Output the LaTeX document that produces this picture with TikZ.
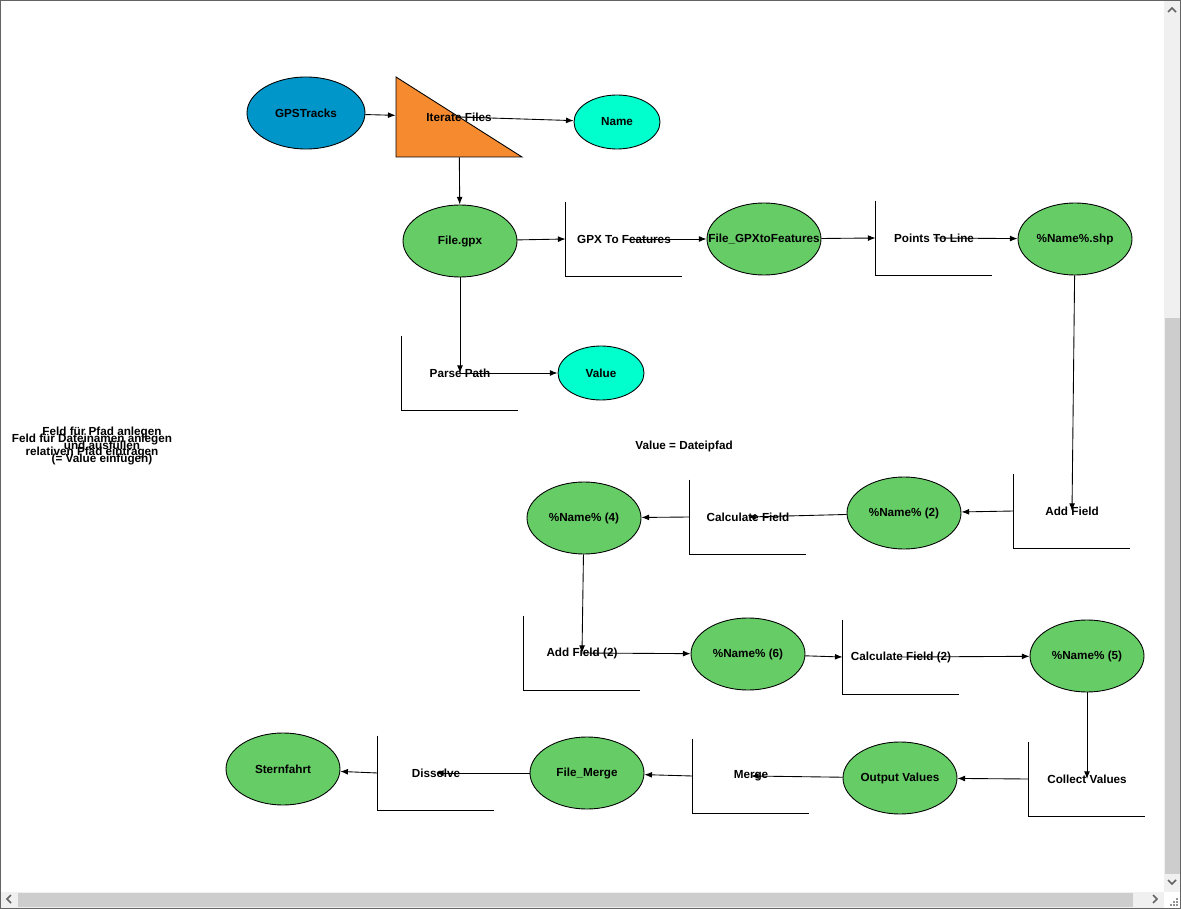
\documentclass[tikz,border=0pt]{standalone}
\usepackage{fontspec}
\setmainfont{Liberation Sans}
\usetikzlibrary{shapes.geometric,arrows.meta}
\definecolor{inputblue}{RGB}{0,150,201}
\definecolor{iterorange}{RGB}{246,138,47}
\definecolor{valueaqua}{RGB}{0,255,204}
\definecolor{datagreen}{RGB}{102,204,102}
\definecolor{barback}{RGB}{240,240,240}
\definecolor{barthumb}{RGB}{205,205,205}
\definecolor{barframe}{RGB}{100,100,100}
\newcommand{\Chevron}{\draw[barframe, line width=1.4pt]}

\begin{document}
\begin{tikzpicture}[>={Latex[length=6.5pt,width=5pt]}, x=0.03cm, y=-0.03cm,
    font=\fontsize{10}{11.5}\selectfont\bfseries,
    every path/.style={line width=0.75pt},
    data/.style={ellipse, draw, fill=datagreen, inner sep=0pt, minimum width=3.42cm, minimum height=2.16cm},
    source/.style={data, fill=inputblue, minimum width=3.54cm},
    value/.style={data, fill=valueaqua, minimum width=2.58cm, minimum height=1.62cm},
    toolbox/.style={rectangle, inner sep=0pt, minimum width=3.48cm, minimum height=2.22cm},
    iterbox/.style={rectangle, inner sep=0pt, minimum width=3.78cm, minimum height=2.4cm},
    note/.style={align=center, inner sep=0pt}]

    \useasboundingbox (0,0) rectangle (1181,909);

    % iterator
    \filldraw[fill=iterorange] (396,77) -- (396,157) -- (522,157) -- cycle;
    \node[iterbox] (iterate) at (459,117) {Iterate Files};

    % data
    \node[source] (tracks) at (306,113) {GPSTracks};
    \node[value] (name) at (617,122) {Name};
    \node[data] (gpx) at (460,241) {File.gpx};
    \node[data] (gpxfeat) at (764,239) {\makebox[0pt]{File\_GPXtoFeatures}};
    \node[data] (shp) at (1075,239) {\%Name\%.shp};
    \node[value] (value) at (601,373) {Value};
    \node[data] (name2) at (904,513) {\%Name\% (2)};
    \node[data] (name4) at (584,518) {\%Name\% (4)};
    \node[data] (name6) at (748,654) {\%Name\% (6)};
    \node[data] (name5) at (1087,656) {\%Name\% (5)};
    \node[data] (output) at (900,778) {Output Values};
    \node[data] (filemerge) at (587,773) {File\_Merge};
    \node[data] (sternfahrt) at (283,769) {Sternfahrt};

    % tools
    \node[toolbox] (gpxtool) at (624,239) {GPX To Features};
    \node[toolbox] (linetool) at (934,238) {Points To Line};
    \node[toolbox] (parsetool) at (460,373) {Parse Path};
    \node[toolbox] (addtool) at (1072,511) {Add Field};
    \node[toolbox] (calctool) at (748,517) {Calculate Field};
    \node[toolbox] (add2tool) at (582,653) {Add Field (2)};
    \node[toolbox] (calc2tool) at (901,657) {Calculate Field (2)};
    \node[toolbox] (collecttool) at (1087,779) {Collect Values};
    \node[toolbox] (mergetool) at (751,776) {Merge};
    \node[toolbox] (dissolvetool) at (436,773) {Dissolve};
    \foreach \t in {gpxtool,linetool,parsetool,addtool,calctool,add2tool,calc2tool,collecttool,mergetool,dissolvetool}
        \draw (\t.north west) |- (\t.south east);

    % labels
    \node[note] (namenote) at (92,446) {Feld für Dateinamen anlegen\\relativen Pfad eintragen};
    \node[note] (pfadnote) at (102,446) {Feld für Pfad anlegen\\und ausfüllen\\(= Value einfügen)};
    \node[note] (pfadvalue) at (684,446) {Value = Dateipfad};

    % connectors
    \draw[->] (tracks) -- (iterate);
    \draw[->] (iterate.center) -- (name);
    \draw[->] (iterate) -- (gpx);
    \draw[->] (gpx) -- (gpxtool.west);
    \draw[->] (gpxtool.center) -- (gpxfeat);
    \draw[->] (gpxfeat) -- (linetool.west);
    \draw[->] (linetool.center) -- (shp);
    \draw[->] (gpx) -- (parsetool.center);
    \draw[->] (parsetool.center) -- (value);
    \draw[->] (shp) -- (addtool.center);
    \draw[->] (addtool.west) -- (name2);
    \draw[->] (name2) -- (calctool.center);
    \draw[->] (calctool.west) -- (name4);
    \draw[->] (name4) -- (add2tool.center);
    \draw[->] (add2tool.center) -- (name6);
    \draw[->] (name6) -- (calc2tool.west);
    \draw[->] (calc2tool.center) -- (name5);
    \draw[->] (name5) -- (collecttool.center);
    \draw[->] (collecttool.west) -- (output);
    \draw[->] (output) -- (mergetool.center);
    \draw[->] (mergetool.west) -- (filemerge);
    \draw[->] (filemerge) -- (dissolvetool.center);
    \draw[->] (dissolvetool.west) -- (sternfahrt);

    % window scroll bars
    \fill[barback] (1164,1) rectangle (1180,892);
    \fill[barthumb] (1165,318) rectangle (1180,874);
    \fill[barback] (1,892) rectangle (1164,908);
    \fill[barthumb] (18,893) rectangle (1133,907);
    \Chevron (1168,12) -- (1172,8) -- (1176,12);
    \Chevron (1168,880) -- (1172,884) -- (1176,880);
    \Chevron (11,895) -- (7,899) -- (11,903);
    \Chevron (1153,895) -- (1157,899) -- (1153,903);
    \foreach \p in {(1176,904),(1173,904),(1170,904),(1176,901),(1173,901),(1176,898)}
        \fill[barframe!70] \p rectangle ++(2,2);
    \draw[barframe, line width=1pt] (0.5,0.5) rectangle (1180.5,908.5);

\end{tikzpicture}
\end{document}
